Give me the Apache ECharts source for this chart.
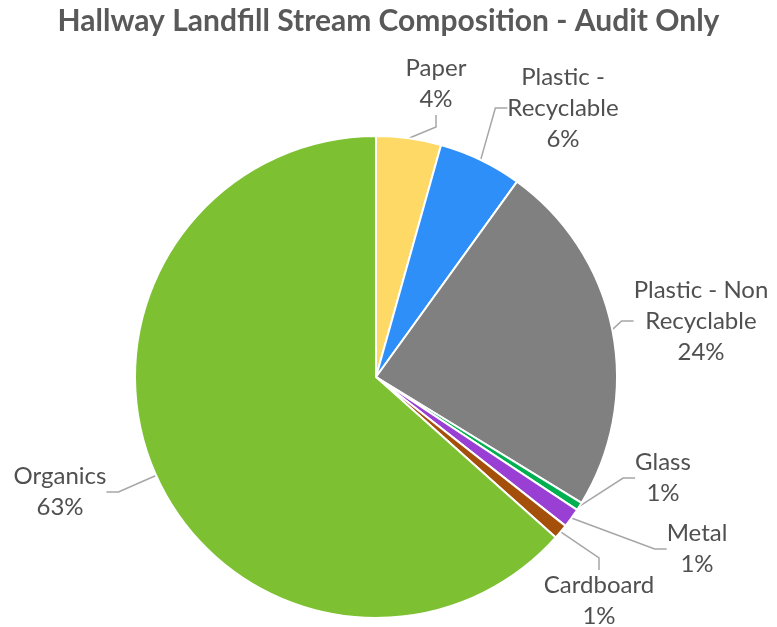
<!DOCTYPE html>
<html>
<head>
<meta charset="utf-8">
<script src="https://cdn.jsdelivr.net/npm/echarts@6/dist/echarts.min.js"></script>
<style>
  html, body { margin: 0; padding: 0; background: #fff; }
  #chart { width: 777px; height: 627px; }
</style>
</head>
<body>
<div id="chart"></div>
<script>
// Waste stream composition (percent of audited hallway landfill)
const categories = ['Paper', 'Plastic -\nRecyclable', 'Plastic - Non\nRecyclable', 'Glass', 'Metal', 'Cardboard', 'Organics'];
const shares = [4.35, 5.6, 23.8, 0.55, 1.3, 1.0, 63.4];
const colors = ['#FFD966', '#2F8FF8', '#808080', '#00B050', '#9A3FD4', '#A5500A', '#7DC133'];

// Where each label sits (label centre, px)
const labelSpots = [
  [436, 84], [563, 108], [701, 321], [663, 478], [697, 549], [599, 601], [60, 492]
];

const chart = echarts.init(document.getElementById('chart'), null, { renderer: 'canvas' });

const data = categories.map((name, i) => ({
  name: name,
  value: shares[i],
  itemStyle: { color: colors[i] }
}));

chart.setOption({
  animation: false,
  title: {
    text: 'Hallway Landfill Stream Composition - Audit Only',
    left: 'center',
    top: 1,
    textStyle: {
      fontFamily: 'Lato',
      fontWeight: 'bold',
      fontSize: 30,
      color: '#595959'
    }
  },
  series: [{
    type: 'pie',
    center: [376, 377],
    radius: [0, 241],
    startAngle: 90,
    clockwise: true,
    data: data,
    itemStyle: { borderColor: '#ffffff', borderWidth: 2 },
    label: {
      show: true,
      position: 'outside',
      fontFamily: 'Lato',
      fontSize: 24,
      lineHeight: 31,
      color: '#505050',
      align: 'center',
      overflow: 'none',
      formatter: p => p.name + '\n' + Math.round(p.percent) + '%'
    },
    labelLine: {
      show: true,
      length: 12,
      length2: 12,
      smooth: false,
      lineStyle: { color: '#A6A6A6', width: 1.5 }
    },
    labelLayout: params => {
      const s = labelSpots[params.dataIndex];
      return {
        x: s[0],
        y: s[1],
        align: 'center',
        verticalAlign: 'middle'
      };
    }
  }]
});
</script>
</body>
</html>
